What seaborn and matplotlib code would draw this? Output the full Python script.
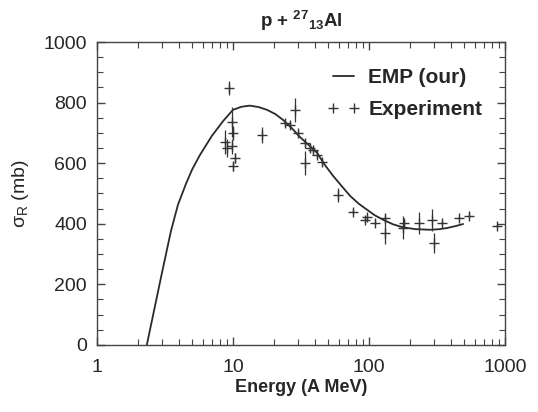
import matplotlib
matplotlib.use('Agg')
import matplotlib.pyplot as plt
import seaborn as sns
import pandas as pd
from matplotlib.ticker import LogLocator, MultipleLocator, NullFormatter
from matplotlib.lines import Line2D

# EMP curve
emp_energy = [2.33, 3.0, 3.5, 3.94, 4.5, 5.0, 5.72, 7.0, 8.5, 10.0, 11.5, 13.3,
              15.5, 17.8, 20.5, 23.3, 27, 31.1, 36, 41.5, 47, 54.4, 64.4, 72.5,
              84, 96.7, 110, 127, 150, 178, 220, 281, 330, 375, 430, 491]
emp_sigma = [0, 235, 375, 462, 530, 578, 627, 690, 740, 776, 786, 790,
             785, 776, 762, 743, 716, 686, 660, 634, 596, 558, 519, 492,
             466, 446, 428, 413, 398, 388, 382, 380, 382, 386, 392, 399]

# experimental points
exp_energy = [9.36, 9.83, 10.0, 8.74, 9.03, 9.83, 10.3, 10.0, 16.3, 24.1, 26.2,
              28.5, 30.1, 33.8, 33.8, 36.8, 38.7, 41.5, 45.1, 59, 76, 93.5,
              96.7, 110, 131, 131, 178, 180, 233, 290, 302, 343, 460, 543, 870]
exp_sigma = [848, 736, 700, 670, 650, 655, 617, 590, 693, 733, 726,
             776, 700, 665, 600, 650, 644, 627, 604, 495, 439, 413,
             422, 403, 419, 370, 386, 403, 403, 413, 337, 403, 419, 426, 393]
exp_err = [22, 50, 22, 40, 30, 25, 15, 15, 25, 10, 10,
           40, 10, 12, 40, 10, 11, 10, 10, 22, 8, 8,
           8, 8, 9, 38, 38, 10, 36, 36, 33, 8, 5, 8, 5]

sns.set_style("ticks")
plt.rcParams['font.family'] = ['Liberation Sans', 'DejaVu Sans']
plt.rcParams['mathtext.default'] = 'regular'

emp = pd.DataFrame({'E': emp_energy, 'sigma': emp_sigma})
exp = pd.DataFrame({'E': exp_energy, 'sigma': exp_sigma, 'err': exp_err})

fig = plt.figure(figsize=(5.38, 4.12), dpi=100)
ax = fig.add_axes([0.180, 0.163, 0.759, 0.735])

sns.lineplot(data=emp, x='E', y='sigma', ax=ax, color='#2a2a2a', lw=1.3,
             estimator=None, sort=False)
ax.errorbar(exp['E'], exp['sigma'], yerr=exp['err'], fmt='+', color='#333333',
            ms=7, mew=1.0, elinewidth=0.9, capsize=0)

ax.set_xscale('log')
ax.set_xlim(1, 1000)
ax.set_ylim(0, 1000)
ax.xaxis.set_major_locator(LogLocator(base=10))
ax.xaxis.set_minor_locator(LogLocator(base=10, subs=range(2, 10)))
ax.xaxis.set_minor_formatter(NullFormatter())
ax.set_xticks([1, 10, 100, 1000])
ax.set_xticklabels(['1', '10', '100', '1000'])
ax.yaxis.set_major_locator(MultipleLocator(200))
ax.yaxis.set_minor_locator(MultipleLocator(50))

ax.tick_params(which='both', direction='in', top=True, right=True,
               labelsize=14, color='#444444')
ax.tick_params(which='major', length=6, width=1)
ax.tick_params(which='minor', length=4, width=0.8)
ax.tick_params(axis='x', pad=10)
ax.tick_params(axis='y', pad=7)
for s in ax.spines.values():
    s.set_color('#444444')
    s.set_linewidth(1.0)

ax.set_xlabel('Energy (A MeV)', fontsize=13, fontweight='bold', labelpad=2)
ax.set_ylabel(r'$\sigma_R$ (mb)', fontsize=14, labelpad=9)
ax.set_title(r'p + $^{27}{}_{13}$Al', fontsize=13.5, fontweight='bold', pad=11)

handles = [Line2D([], [], color='#2a2a2a', lw=1.3),
           Line2D([], [], color='#333333', marker='+', ls='none', ms=7)]
ax.legend(handles, ['EMP (our)', 'Experiment'], loc='upper right',
          frameon=False, numpoints=2, handlelength=1.6, handletextpad=0.4,
          bbox_to_anchor=(0.99, 0.975), labelspacing=0.6,
          prop={'weight': 'bold', 'size': 15})

plt.savefig('out.png', dpi=100)
